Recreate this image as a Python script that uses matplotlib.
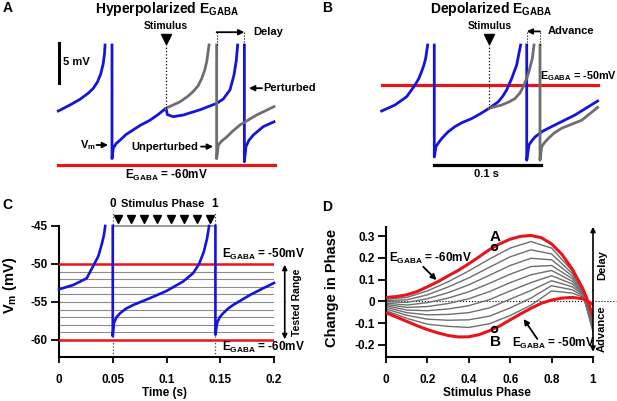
import numpy as np
import matplotlib
matplotlib.use('Agg')
import matplotlib.pyplot as plt

plt.rcParams['font.family'] = ['Liberation Sans', 'DejaVu Sans']
plt.rcParams['font.weight'] = 'bold'
plt.rcParams['axes.labelweight'] = 'bold'
plt.rcParams['mathtext.fontset'] = 'custom'
plt.rcParams['mathtext.rm'] = 'Liberation Sans:bold'
plt.rcParams['mathtext.it'] = 'Liberation Sans:bold'
plt.rcParams['mathtext.bf'] = 'Liberation Sans:bold'
plt.rcParams['axes.linewidth'] = 1.5

BLUE = '#1414dc'
GRAY = '#6e6e6e'
LGRAY = '#8c8c8c'
RED = '#e8141b'
nan = np.nan

# ---- panel A: hyperpolarized E_GABA (time in ms, voltage in mV) ----
a_blue_t = [-50.2, -39.3, -30.0, -22.0, -17.4, -13.5, -10.5, -8.3, -7.0, -6.5, nan,
            0, 0, 1.25, 4.0, 7.5, 13.0, 19.9, 27.0, 35.5, 43.0, 50.5, 51.7, 57.3, 66.6, 82.2, 97.8, 104.0,
            110.3, 114.0, 116.2, 117.4, nan,
            123.7, 123.7, 125.2, 128.0, 132.1, 141.4, 151.4]
a_blue_v = [-53.25, -52.5, -51.8, -51.0, -50.4, -49.6, -48.6, -47.4, -46.1, -45.0, nan,
            -45.0, -59.2, -57.9, -57.3, -56.9, -56.2, -55.6, -55.0, -54.4, -53.7, -52.9, -53.7, -53.96, -53.75, -53.1, -52.3, -51.75,
            -50.6, -48.75, -46.9, -45.0, nan,
            -45.0, -59.6, -57.7, -56.9, -56.25, -55.2, -54.6]
a_gray_t = [50.5, 63.6, 71.0, 76.0, 80.5, 83.8, 86.5, 88.5, 90.7, nan,
            97.8, 97.8, 99.4, 102.5, 107.2, 112.5, 119.6, 135.2, 151.4]
a_gray_v = [-52.9, -52.1, -51.4, -50.8, -50.1, -49.2, -48.2, -47.1, -45.0, nan,
            -45.0, -59.2, -57.5, -57.0, -56.5, -55.8, -55.0, -53.75, -52.7]
a_stim = 50.5
a_spike_unpert = 97.8
a_spike_pert = 123.7
a_egaba = -60

# ---- panel B: depolarized E_GABA ----
b_blue_t = [-49.2, -36.7, -25.8, -18.0, -14.5, -11.8, -9.7, -8.1, -6.2, nan,
            0, 0, 1.6, 4.0, 6.9, 12.5, 19.3, 26.0, 34.9, 43.0, 51.4, 59.8, 64.0, 67.7, 72.3, 77.0, 79.5, 80.7, nan,
            86.4, 86.4, 88.5, 91.0, 94.1, 101.0, 109.7, 131.5, 152.7]
b_blue_v = [-53.25, -52.5, -51.46, -50.0, -49.2, -48.3, -47.5, -46.7, -45.0, nan,
            -45.0, -59.0, -57.7, -57.2, -56.7, -55.9, -55.2, -54.7, -54.2, -53.6, -52.9, -52.1, -51.4, -50.6, -49.2, -47.5, -45.8, -45.0, nan,
            -45.0, -59.4, -57.5, -57.0, -56.5, -55.8, -55.2, -53.75, -52.0]
b_gray_t = [51.4, 63.0, 70.0, 75.4, 80.0, 83.2, 86.0, 88.5, 91.6, 93.2, nan,
            98.8, 98.8, 100.4, 103.0, 106.5, 112.0, 119.1, 137.8, 152.7]
b_gray_v = [-52.9, -52.5, -52.1, -51.7, -51.0, -50.2, -49.3, -48.3, -46.7, -45.0, nan,
            -45.0, -59.4, -57.7, -57.2, -56.7, -56.0, -55.4, -54.4, -52.8]
b_stim = 51.4
b_spike_pert = 86.4
b_spike_unpert = 98.8
b_egaba = -50

# ---- panel C: membrane potential over one cycle ----
c_t = [0, 0.0133, 0.0257, 0.0328, 0.0365, 0.0396, 0.0418, 0.043, nan,
       0.05, 0.05, 0.051, 0.0535, 0.0567, 0.062, 0.069, 0.0845, 0.1, 0.1155, 0.1248, 0.1303, 0.1347, 0.1378, 0.1396, nan,
       0.1455, 0.1455, 0.147, 0.1495, 0.1526, 0.1570, 0.1619, 0.1774, 0.1898, 0.2]
c_v = [-53.33, -52.76, -51.89, -50.0, -49.0, -47.5, -46.2, -45.0, nan,
       -45.0, -59.5, -57.8, -57.0, -56.5, -55.9, -55.4, -54.5, -53.55, -52.3, -51.2, -50.0, -48.4, -46.6, -45.0, nan,
       -45.0, -59.3, -57.8, -57.0, -56.5, -55.9, -55.4, -54.1, -53.2, -52.5]
c_egaba_levels = [-50, -51, -52, -53, -54, -55, -56, -57, -58, -59, -60]
c_stim_times = [0.055, 0.067, 0.079, 0.091, 0.104, 0.116, 0.128, 0.140]
c_phase0 = 0.05
c_phase1 = 0.145

# ---- panel D: phase response curves ----
d_red_x = [0, 0.05, 0.1, 0.15, 0.2, 0.25, 0.3, 0.35, 0.4, 0.45, 0.5, 0.55,
           0.6, 0.65, 0.7, 0.75, 0.8, 0.85, 0.9, 0.95, 0.97, 1.0]
d_prc_m60 = [0.018, 0.022, 0.030, 0.045, 0.067, 0.090, 0.117, 0.143, 0.173, 0.205, 0.238, 0.265,
             0.286, 0.299, 0.303, 0.293, 0.264, 0.216, 0.148, 0.060, 0.014, -0.070]
d_prc_m50 = [-0.052, -0.072, -0.092, -0.112, -0.130, -0.145, -0.157, -0.164, -0.163, -0.153, -0.135, -0.113,
             -0.085, -0.058, -0.032, -0.009, 0.006, 0.015, 0.018, 0.012, 0.003, -0.015]
d_gray_x = [0, 0.1, 0.2, 0.3, 0.4, 0.5, 0.6, 0.7, 0.8, 0.9, 0.95, 1.0]
d_prc_m59 = [0.010, 0.018, 0.048, 0.090, 0.140, 0.195, 0.245, 0.275, 0.245, 0.140, 0.058, -0.090]
d_prc_m58 = [0.004, 0.007, 0.030, 0.066, 0.108, 0.157, 0.205, 0.237, 0.218, 0.128, 0.055, -0.105]
d_prc_m57 = [-0.002, -0.005, 0.012, 0.040, 0.076, 0.120, 0.165, 0.198, 0.191, 0.116, 0.050, -0.118]
d_prc_m56 = [-0.008, -0.017, -0.006, 0.015, 0.044, 0.083, 0.125, 0.160, 0.165, 0.104, 0.046, -0.128]
d_prc_m55 = [-0.014, -0.028, -0.024, -0.010, 0.012, 0.045, 0.086, 0.122, 0.142, 0.092, 0.042, -0.135]
d_prc_m54 = [-0.020, -0.040, -0.043, -0.035, -0.020, 0.008, 0.048, 0.086, 0.118, 0.080, 0.037, -0.140]
d_prc_m53 = [-0.027, -0.052, -0.062, -0.060, -0.052, -0.030, 0.010, 0.050, 0.095, 0.067, 0.032, -0.120]
d_prc_m52 = [-0.035, -0.064, -0.082, -0.087, -0.085, -0.068, -0.030, 0.015, 0.072, 0.053, 0.026, -0.095]
d_prc_m51 = [-0.043, -0.078, -0.105, -0.115, -0.120, -0.103, -0.065, -0.018, 0.048, 0.038, 0.020, -0.060]
d_gray_curves = [d_prc_m59, d_prc_m58, d_prc_m57, d_prc_m56, d_prc_m55,
                 d_prc_m54, d_prc_m53, d_prc_m52, d_prc_m51]
d_mark_x = 0.52
d_mark_a = 0.252
d_mark_b = -0.127

W, H = 617, 401
fig = plt.figure(figsize=(W / 100, H / 100), dpi=100)


def px_axes(left, top, right, bottom):
    return fig.add_axes([left / W, 1 - bottom / H, (right - left) / W, (bottom - top) / H])


def arrow(ax, start, end, style='-|>', lw=1.3, ms=8, clip=False):
    ax.annotate('', xy=end, xytext=start,
                arrowprops=dict(arrowstyle=style, color='black', lw=lw,
                                mutation_scale=ms, shrinkA=0, shrinkB=0),
                annotation_clip=clip)


# panel A
axA = px_axes(40, 20, 300, 190)
axA.set_xlim(-67.29, 175.7)
axA.set_ylim(-63.125, -41.875)
axA.axis('off')
axA.plot([-50.2, 152.3], [a_egaba, a_egaba], color=RED, lw=2.3)
axA.plot(a_blue_t, a_blue_v, color=BLUE, lw=2.0)
axA.plot(a_gray_t, a_gray_v, color=GRAY, lw=2.0)
axA.plot([a_stim, a_stim], [-52.9, -44.3], color='black', lw=0.9, ls=':')
axA.plot([a_stim], [-44.25], marker='v', color='black', ms=7)
axA.text(a_stim, -42.6, 'Stimulus', ha='center', va='center', fontsize=7.5)
for t in [a_spike_unpert, a_spike_pert]:
    axA.plot([t, t], [-45, -43.4], color='black', lw=0.8, ls=':')
arrow(axA, (a_spike_unpert, -43.4), (a_spike_pert, -43.4))
axA.text(131.8, -43.4, 'Delay', ha='left', va='center', fontsize=8)
arrow(axA, (140.2, -50.4), (128.0, -50.4))
axA.text(141.1, -50.4, 'Perturbed', ha='left', va='center', fontsize=8)
axA.text(80.4, -57.7, 'Unperturbed', ha='right', va='center', fontsize=8)
arrow(axA, (83.2, -57.7), (94.4, -57.7))
axA.text(-15.5, -57.5, 'V$_{\\rm m}$', ha='right', va='center', fontsize=8)
arrow(axA, (-14.5, -57.5), (-3.7, -57.5))
axA.plot([-49.3, -49.3], [-44.7, -49.7], color='black', lw=2.2)
axA.text(-45.8, -47.1, '5 mV', ha='left', va='center', fontsize=8)
axA.text(51.4, -61.3, 'E$_{\\rm GABA}$ = -60mV', ha='center', va='center', fontsize=8.5)

# panel B
axB = px_axes(355, 20, 615, 190)
axB.set_xlim(-74.1, 168.9)
axB.set_ylim(-63.125, -41.875)
axB.axis('off')
axB.plot([-49.2, 152.7], [b_egaba, b_egaba], color=RED, lw=2.3)
axB.plot(b_blue_t, b_blue_v, color=BLUE, lw=2.0)
axB.plot(b_gray_t, b_gray_v, color=GRAY, lw=2.0)
axB.plot([b_stim, b_stim], [-52.9, -44.3], color='black', lw=0.9, ls=':')
axB.plot([b_stim], [-44.25], marker='v', color='black', ms=7)
axB.text(b_stim, -42.6, 'Stimulus', ha='center', va='center', fontsize=7.5)
for t in [b_spike_pert, b_spike_unpert]:
    axB.plot([t, t], [-45, -43.3], color='black', lw=0.8, ls=':')
arrow(axB, (b_spike_unpert, -43.3), (b_spike_pert, -43.3))
axB.text(106.3, -43.3, 'Advance', ha='left', va='center', fontsize=8)
axB.text(98.5, -48.9, 'E$_{\\rm GABA}$ = -50mV', ha='left', va='center', fontsize=7.8)
axB.plot([0, 99.4], [-60, -60], color='black', lw=2.3)
axB.text(49.2, -61.1, '0.1 s', ha='center', va='center', fontsize=8)

fig.text(167 / W, 1 - 9 / H, 'Hyperpolarized E$_{\\rm GABA}$', ha='center', va='center', fontsize=10)
fig.text(491 / W, 1 - 9 / H, 'Depolarized E$_{\\rm GABA}$', ha='center', va='center', fontsize=10)

# panel C
axC = px_axes(59, 226, 274, 357)
axC.set_xlim(0, 0.2)
axC.set_ylim(-62.24, -45)
for lvl in c_egaba_levels:
    if lvl in (-50, -60):
        axC.plot([0, 0.2], [lvl, lvl], color=RED, lw=1.8, zorder=3)
    else:
        axC.plot([0, 0.2], [lvl, lvl], color=LGRAY, lw=0.8, zorder=2)
axC.plot(c_t, c_v, color=BLUE, lw=1.9, zorder=4, clip_on=False)
axC.plot([c_phase0, c_phase1], [-45, -45], color=LGRAY, lw=1.2, clip_on=False)
for t in [c_phase0, c_phase1]:
    axC.plot([t, t], [-62.24, -43.0], color='#444444', lw=0.9, ls=':', clip_on=False, zorder=1)
axC.plot(c_stim_times, [-44.1] * len(c_stim_times), ls='none', marker='v', color='black',
         ms=5.5, clip_on=False)
axC.text(c_phase0, -42.1, '0', ha='center', va='center', fontsize=8.5)
axC.text(c_phase1, -42.1, '1', ha='center', va='center', fontsize=8.5)
axC.text(0.0967, -42.1, 'Stimulus Phase', ha='center', va='center', fontsize=8)
axC.text(0.1516, -48.8, 'E$_{\\rm GABA}$ = -50mV', ha='left', va='center', fontsize=8.5)
axC.text(0.1516, -60.95, 'E$_{\\rm GABA}$ = -60mV', ha='left', va='center', fontsize=8.5)
arrow(axC, (0.21, -55), (0.21, -50.1), lw=1.2, ms=7)
arrow(axC, (0.21, -55), (0.21, -59.9), lw=1.2, ms=7)
axC.text(0.2214, -55, 'Tested Range', rotation=90, ha='center', va='center', fontsize=7.5)
axC.spines['top'].set_visible(False)
axC.spines['right'].set_visible(False)
axC.set_xticks([0, 0.05, 0.1, 0.15, 0.2])
axC.set_xticklabels(['0', '0.05', '0.1', '0.15', '0.2'])
axC.set_yticks([-45, -50, -55, -60])
axC.set_yticklabels(['-45', '-50', '-55', '-60'])
axC.tick_params(axis='y', length=6, width=1.3, pad=2, labelsize=8.5)
axC.tick_params(axis='x', length=4, width=1.3, pad=8, labelsize=8.5)
axC.set_ylabel('V$_{\\rm m}$ (mV)', fontsize=10.5, va='center')
axC.yaxis.set_label_coords(-0.228, 0.55)
axC.set_xlabel('Time (s)', fontsize=8.5, va='center')
axC.xaxis.set_label_coords(0.493, -0.275)

# panel D
axD = px_axes(386, 227, 593, 357)
axD.set_xlim(0, 1)
axD.set_ylim(-0.256, 0.342)
axD.plot([0, 1.113], [0, 0], color='black', lw=0.8, ls=':', clip_on=False, zorder=1)
for curve in d_gray_curves:
    axD.plot(d_gray_x, curve, color=GRAY, lw=1.0, zorder=2)
axD.plot(d_red_x, d_prc_m60, color=RED, lw=2.2, zorder=3)
axD.plot(d_red_x, d_prc_m50, color=RED, lw=2.2, zorder=3)
axD.plot([d_mark_x, d_mark_x], [d_mark_a, d_mark_b], ls='none', marker='o', ms=4,
         mfc='none', mec='black', mew=1.3, zorder=4)
axD.text(0.527, 0.297, 'A', ha='center', va='center', fontsize=11)
axD.text(0.527, -0.186, 'B', ha='center', va='center', fontsize=11)
axD.text(0.215, 0.198, 'E$_{\\rm GABA}$ = -60mV', ha='center', va='center', fontsize=8.5)
arrow(axD, (0.18, 0.159), (0.244, 0.098), lw=1.3, ms=8)
axD.text(0.81, -0.193, 'E$_{\\rm GABA}$ = -50mV', ha='center', va='center', fontsize=8.5)
arrow(axD, (0.731, -0.173), (0.665, -0.081), lw=1.3, ms=8)
arrow(axD, (1.0, 0.05), (1.0, 0.343), lw=1.2, ms=7)
arrow(axD, (1.0, 0.05), (1.0, -0.232), lw=1.2, ms=7)
axD.text(1.043, 0.167, 'Delay', rotation=90, ha='center', va='center', fontsize=8)
axD.text(1.043, -0.124, 'Advance', rotation=90, ha='center', va='center', fontsize=8)
axD.spines['top'].set_visible(False)
axD.spines['right'].set_visible(False)
axD.set_xticks([0, 0.2, 0.4, 0.6, 0.8, 1.0])
axD.set_xticklabels(['0', '0.2', '0.4', '0.6', '0.8', '1'])
axD.set_yticks([-0.2, -0.1, 0, 0.1, 0.2, 0.3])
axD.set_yticklabels(['-0.2', '-0.1', '0', '0.1', '0.2', '0.3'])
axD.tick_params(axis='y', length=6, width=1.3, pad=2, labelsize=8.5)
axD.tick_params(axis='x', length=4, width=1.3, pad=8, labelsize=8.5)
axD.set_ylabel('Change in Phase', fontsize=10.5, va='center')
axD.yaxis.set_label_coords(-0.261, 0.53)
axD.set_xlabel('Stimulus Phase', fontsize=8.5, va='center')
axD.xaxis.set_label_coords(0.486, -0.277)

# panel letters
for lbl, x, y in [('A', 3, 8), ('B', 322, 8), ('C', 2, 205), ('D', 322, 207)]:
    fig.text(x / W, 1 - y / H, lbl, ha='left', va='center', fontsize=10)

fig.savefig('out.png', dpi=100)
